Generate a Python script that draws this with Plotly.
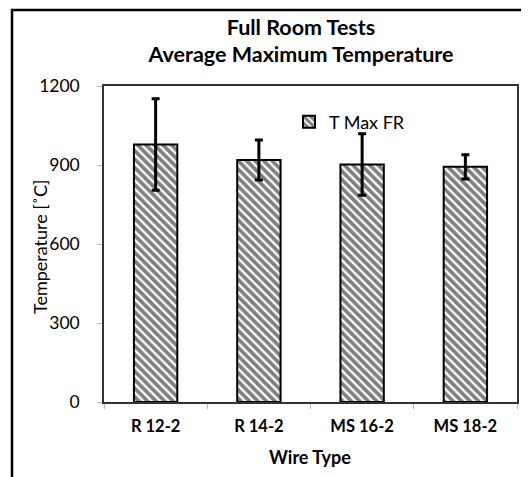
import plotly.graph_objects as go

categories = ["R 12-2", "R 14-2", "MS 16-2", "MS 18-2"]
t_max = [978, 919, 902, 893]
t_err = [174, 76, 117, 46]
series_name = "T Max FR"
y_ticks = [0, 300, 600, 900, 1200]

FONT = "Lato"
OFF = 8  # page body margin

# target on-screen plot area
SL, SR, ST, SB = 104, 517, 86, 402
W, H = 529 - OFF, 477 - OFF
pw, ph = SR - SL, SB - ST

def px(x):
    return (x - SL) / pw

def py(y):
    return (SB - y) / ph

fig = go.Figure()
fig.add_trace(go.Bar(
    x=categories, y=t_max, name=series_name,
    marker=dict(color="white", line=dict(color="black", width=2),
                pattern=dict(shape="\\", fgcolor="black", bgcolor="white",
                             size=6, solidity=0.62)),
    error_y=dict(type="data", array=t_err, visible=True, color="black",
                 thickness=3, width=4),
    showlegend=True,
))

fig.update_layout(
    width=W, height=H,
    margin=dict(l=SL - OFF, r=W - (SR - OFF), t=ST - OFF, b=H - (SB - OFF),
                autoexpand=False),
    paper_bgcolor="white", plot_bgcolor="white",
    font=dict(family=FONT, color="black", size=17),
    bargap=0.58,
    title=dict(text="<b>Full Room Tests<br>Average Maximum Temperature</b>",
               xref="paper", x=px(301), xanchor="center",
               yref="container", y=1 - (34.5 - OFF) / H, yanchor="middle",
               font=dict(size=21.5, family=FONT)),
    legend=dict(x=px(289), y=py(122), xanchor="left", yanchor="middle",
                bgcolor="rgba(0,0,0,0)", font=dict(size=18, family=FONT)),
    xaxis=dict(showline=True, mirror=True, linecolor="#333", linewidth=1.5,
               ticks="outside", tickson="boundaries", ticklen=5, tickcolor="#bbb",
               tickfont=dict(size=16.5, family=FONT, weight="bold"),
               showgrid=False, ticklabelstandoff=8),
    yaxis=dict(range=[0, 1200], tickvals=y_ticks, showline=True, mirror=True,
               linecolor="#333", linewidth=1.5, ticks="outside", ticklen=5,
               tickcolor="#bbb", tickfont=dict(size=17.5), showgrid=False,
               zeroline=False, ticklabelstandoff=14),
    shapes=[dict(type="rect", xref="paper", yref="paper",
                 x0=px(12), x1=px(600), y0=py(600), y1=py(10),
                 line=dict(color="black", width=2.5), fillcolor="rgba(0,0,0,0)")],
    annotations=[
        dict(text="Temperature [˚C]", xref="paper", yref="paper",
             x=px(40), y=py(247), textangle=-90, showarrow=False,
             xanchor="center", yanchor="middle", font=dict(size=18)),
        dict(text="<b>Wire Type</b>", xref="paper", yref="paper",
             x=px(310), y=py(457), showarrow=False,
             xanchor="center", yanchor="middle", font=dict(size=18)),
    ],
)

fig.write_html("out.html")
